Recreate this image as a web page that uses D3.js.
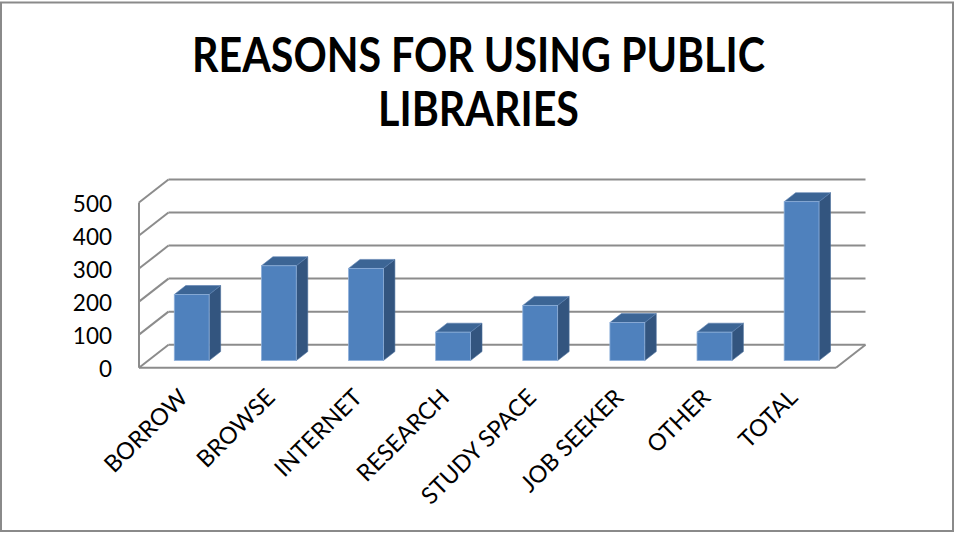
<!DOCTYPE html>
<html>
<head>
<meta charset="utf-8">
<script src="https://cdn.jsdelivr.net/npm/d3@7"></script>
<style>
  html, body { margin: 0; padding: 0; background: #fff; }
  svg { display: block; }
  text { font-family: Lato, "Open Sans", sans-serif; fill: #000; }
</style>
</head>
<body>
<svg id="chart" width="954" height="533"></svg>
<script>
// Survey results: reasons for using public libraries
const categories = ["BORROW", "BROWSE", "INTERNET", "RESEARCH", "STUDY SPACE", "JOB SEEKER", "OTHER", "TOTAL"];
const values = [200, 287, 279, 86, 167, 115, 86, 481];
const yTicks = [0, 100, 200, 300, 400, 500];
const titleLines = ["REASONS FOR USING PUBLIC", "LIBRARIES"];

const svg = d3.select("#chart");

// Outer chart frame
svg.append("rect")
  .attr("x", 1).attr("y", 2.5).attr("width", 952).attr("height", 528.5)
  .attr("fill", "#fff").attr("stroke", "#8a8a8a").attr("stroke-width", 2);

// Oblique 3D projection: front floor edge, and the depth vector to the back wall
const front = { left: 139, right: 836, base: 367.7 };
const depth = { dx: 29.5, dy: -23 };
const barDepthStart = 0.31;   // fraction of depth where bar front faces sit
const barDepth = 0.39;        // fraction of depth taken by each bar

const x = d3.scaleBand()
  .domain(categories)
  .range([front.left, front.right])
  .paddingInner(0.6)
  .paddingOuter(0.3);

// Vertical offset (pixels upward) for a value
const h = d3.scaleLinear().domain([0, 500]).range([0, 165.2]);

const gridColor = "#8c8c8c";
const grid = svg.append("g").attr("fill", "none").attr("stroke", gridColor).attr("stroke-width", 2);

const backLeft = front.left + depth.dx, backRight = front.right + depth.dx;
// Back wall gridlines and left wall diagonals
yTicks.forEach(v => {
  const yb = front.base + depth.dy - h(v);
  const yf = front.base - h(v);
  grid.append("line").attr("x1", backLeft).attr("x2", backRight).attr("y1", yb).attr("y2", yb);
  grid.append("line").attr("x1", backLeft).attr("y1", yb).attr("x2", front.left).attr("y2", yf);
});
// Left wall front edge
grid.append("line")
  .attr("x1", front.left).attr("x2", front.left)
  .attr("y1", front.base).attr("y2", front.base - h(d3.max(yTicks)));
// Floor front edge and right edge
grid.append("line")
  .attr("x1", front.left).attr("x2", front.right)
  .attr("y1", front.base).attr("y2", front.base);
grid.append("line")
  .attr("x1", front.right).attr("y1", front.base)
  .attr("x2", backRight).attr("y2", front.base + depth.dy);

// Bars
const ox = depth.dx * barDepthStart, oy = depth.dy * barDepthStart;
const bx = depth.dx * barDepth, by = depth.dy * barDepth;
const bars = svg.append("g");
categories.forEach((c, i) => {
  const x0 = x(c) + ox, x1 = x0 + x.bandwidth();
  const yBase = front.base + oy;
  const yTop = yBase - h(values[i]);
  const g = bars.append("g");
  // right side
  g.append("path")
    .attr("d", `M${x1},${yBase}L${x1 + bx},${yBase + by}L${x1 + bx},${yTop + by}L${x1},${yTop}Z`)
    .attr("fill", "#33557f").attr("stroke", "#4a6f9c").attr("stroke-width", 0.6);
  // top
  g.append("path")
    .attr("d", `M${x0},${yTop}L${x1},${yTop}L${x1 + bx},${yTop + by}L${x0 + bx},${yTop + by}Z`)
    .attr("fill", "#3c6595").attr("stroke", "#5a80b0").attr("stroke-width", 0.6);
  // front
  g.append("rect")
    .attr("x", x0).attr("y", yTop).attr("width", x1 - x0).attr("height", yBase - yTop)
    .attr("fill", "#4f81bd").attr("stroke", "#8fb0da").attr("stroke-width", 0.8);
});

// Value axis labels
svg.append("g").selectAll("text").data(yTicks).join("text")
  .attr("x", 112)
  .attr("y", v => front.base - h(v) + 1.5)
  .attr("dy", "0.36em")
  .attr("text-anchor", "end")
  .attr("font-size", 22.5)
  .text(v => v);

// Category labels, rotated
svg.append("g").selectAll("text").data(categories).join("text")
  .attr("transform", c => `translate(${x(c) + ox + x.bandwidth() / 2 - 2.5},${399}) rotate(-45)`)
  .attr("text-anchor", "end")
  .attr("font-size", 23.5)
  .text(c => c);

// Title, fitted to its width and set slightly tall like a condensed face
const title = svg.append("g").attr("font-weight", "bold")
  .attr("transform", "translate(478.5,0) scale(1,1.14)");
const t1 = title.append("text").attr("x", 0).attr("y", 72 / 1.14).attr("text-anchor", "middle")
  .attr("font-size", 48).text(titleLines[0]);
const fit = 48 * 573 / t1.node().getComputedTextLength();
t1.attr("font-size", fit);
title.append("text").attr("x", 0).attr("y", 126 / 1.14).attr("text-anchor", "middle")
  .attr("font-size", fit).text(titleLines[1]);
</script>
</body>
</html>
